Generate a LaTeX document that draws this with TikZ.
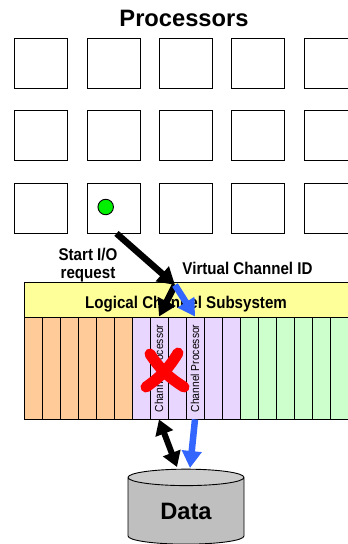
\documentclass[tikz,border=0pt]{standalone}
\usepackage{fontspec}
\setmainfont{Liberation Sans}
\newfontfamily\narrowfont[FakeStretch=0.89]{Liberation Sans}
\usetikzlibrary{arrows.meta,shapes.geometric}
\definecolor{cyellow}{HTML}{FFFF99}
\definecolor{corange}{HTML}{FFCC99}
\definecolor{cpurple}{HTML}{E9D6FF}
\definecolor{cgreen}{HTML}{CCFFCC}
\definecolor{cblue}{HTML}{3366FF}
\definecolor{cdot}{HTML}{00F000}
\begin{document}
\begin{tikzpicture}[x=1pt, y=-1pt,
  proc/.style={rectangle, draw, line width=0.9pt, inner sep=0pt, minimum width=53pt, minimum height=50pt},
  cell/.style={rectangle, draw, line width=0.9pt, inner sep=0pt, minimum width=18pt, minimum height=102pt},
  title/.style={inner sep=0pt, font=\narrowfont\bfseries\fontsize{17}{18}\selectfont, align=center},
  chan/.style={rotate=90, inner sep=0pt, font=\narrowfont\fontsize{11.6}{12}\selectfont},
  bigarrow/.style={line width=6.5pt, -{Triangle[length=17pt,width=19pt]}},
  twoarrow/.style={line width=6pt, {Triangle[length=15pt,width=18pt]}-{Triangle[length=15pt,width=18pt]}},
  cross/.style={line width=11pt, red, line cap=round}]
\path[use as bounding box, clip] (0,0) rectangle (348,544);
\node[inner sep=0pt, font=\bfseries\fontsize{23.7}{24}\selectfont] (proctitle) at (184,18){Processors};
\node[proc] (pid0) at (41,63){};
\node[proc] (pid1) at (113.5,63){};
\node[proc] (pid2) at (185.5,63){};
\node[proc] (pid3) at (258,63){};
\node[proc] (pid4) at (330.5,63){};
\node[proc] (pid5) at (41,135.5){};
\node[proc] (pid6) at (113.5,135.5){};
\node[proc] (pid7) at (185.5,135.5){};
\node[proc] (pid8) at (258,135.5){};
\node[proc] (pid9) at (330.5,135.5){};
\node[proc] (pid10) at (41,208){};
\node[proc] (pid11) at (113.5,208){};
\node[proc] (pid12) at (185.5,208){};
\node[proc] (pid13) at (258,208){};
\node[proc] (pid14) at (330.5,208){};
\node[circle, draw, line width=0.9pt, fill=cdot, minimum size=15.5pt, inner sep=0pt] (dot) at (105.7,207){};
\node[title] (startlbl) at (88,265){Start I/O\\[0pt]request};
\node[title] (vchanlbl) at (247.5,268){Virtual Channel ID};
\node[rectangle, draw, line width=0.9pt, fill=cyellow, inner sep=0pt, minimum width=324pt, minimum height=35pt, text height=17pt, text depth=0pt, font=\narrowfont\bfseries\fontsize{17}{18}\selectfont] (lcss) at (186,299.5){Logical Channel Subsystem};
\node[cell, fill=corange] (cid0) at (33,368){};
\node[cell, fill=corange] (cid1) at (51,368){};
\node[cell, fill=corange] (cid2) at (69,368){};
\node[cell, fill=corange] (cid3) at (87,368){};
\node[cell, fill=corange] (cid4) at (105,368){};
\node[cell, fill=corange] (cid5) at (123,368){};
\node[cell, fill=cpurple] (cid6) at (141,368){};
\node[cell, fill=cpurple] (cid7) at (159,368){};
\node[cell, fill=cpurple] (cid8) at (177,368){};
\node[cell, fill=cpurple] (cid9) at (195,368){};
\node[cell, fill=cpurple] (cid10) at (213,368){};
\node[cell, fill=cpurple] (cid11) at (231,368){};
\node[cell, fill=cgreen] (cid12) at (249,368){};
\node[cell, fill=cgreen] (cid13) at (267,368){};
\node[cell, fill=cgreen] (cid14) at (285,368){};
\node[cell, fill=cgreen] (cid15) at (303,368){};
\node[cell, fill=cgreen] (cid16) at (321,368){};
\node[cell, fill=cgreen] (cid17) at (339,368){};
\node[chan] (chan0) at (159,368.5){Channel Processor};
\node[chan] (chan1) at (195,368.5){Channel Processor};
\node[cylinder, shape border rotate=90, draw, line width=0.9pt, aspect=0.32, minimum width=116pt, minimum height=75pt, inner sep=0pt, cylinder uses custom fill, cylinder body fill=black!25, cylinder end fill=black!20, font=\bfseries\fontsize{23.7}{24}\selectfont] (data) at (186,511){Data};
\coordinate (split) at (175,285);
\coordinate (dleft) at (177,467);
\coordinate (dright) at (190,468);
\coordinate (xa) at (150,354);
\coordinate (xb) at (184,387);
\coordinate (xc) at (178,353);
\coordinate (xd) at (146,387);
\draw[bigarrow]([xshift=3pt]pid11.south) -- (split);
\draw[bigarrow](split) -- (cid7.north);
\draw[bigarrow, cblue](split) -- (cid9.north);
\draw[twoarrow](cid7.south) -- (dleft);
\draw[bigarrow, cblue](cid9.south) -- (dright);
\draw[cross](xa) to[bend right=12] (xb);
\draw[cross](xc) to[bend left=12] (xd);
\end{tikzpicture}
\end{document}
